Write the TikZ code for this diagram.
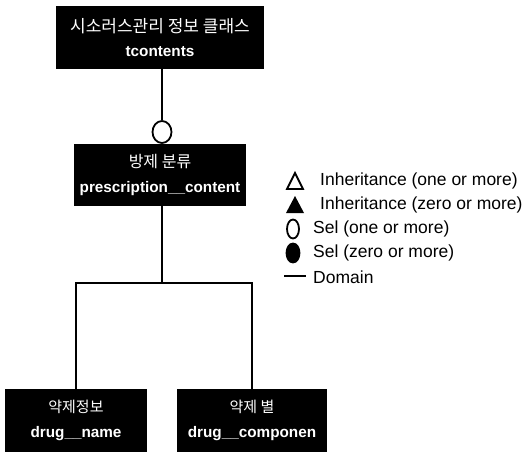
\documentclass[tikz,border=0pt]{standalone}
\usepackage{fontspec}
\setmainfont{Liberation Sans}
\newfontfamily\kr{Noto Sans CJK KR}
\usetikzlibrary{shapes.geometric}
\begin{document}
\begin{tikzpicture}[x=1pt,y=-1pt,
  classbox/.style={fill=black,text=white,inner sep=0pt,align=center,
    font=\fontsize{15.3}{24.5}\selectfont\bfseries},
  link/.style={line width=2pt},
  legendtext/.style={anchor=west,inner sep=0pt,font=\fontsize{17.5}{20}\selectfont},
  setmark/.style={ellipse,line width=1.8pt,minimum width=12pt,minimum height=19pt,inner sep=0pt}
]
\useasboundingbox (0,0) rectangle (525,452);

% classes
\node[classbox,minimum width=208pt,minimum height=63pt] (top) at (160,37.5)
  {{\kr\mdseries\fontsize{17}{24.5}\selectfont 시소러스관리 정보 클래스}\\tcontents};
\node[classbox,minimum width=172pt,minimum height=62pt] (mid) at (160,175)
  {{\kr\mdseries\fontsize{16}{24.5}\selectfont 방제 분류}\\prescription\_\_content};
\node[classbox,minimum width=142pt,minimum height=63pt] (left) at (76,420.5)
  {{\kr\mdseries\fontsize{15}{24.5}\selectfont 약제정보}\\drug\_\_name};
\node[classbox,minimum width=150pt,minimum height=63pt] (right) at (252,420.5)
  {{\kr\mdseries\fontsize{15}{24.5}\selectfont 약제 별}\\drug\_\_componen};

% set link between tcontents and prescription_content
\node[setmark,draw,fill=white,minimum width=19pt,minimum height=22pt] (ring) at (162,132) {};
\draw[link] (ring.north |- top.south) -- (ring.north);

% domain tree below prescription_content
\coordinate (fork) at (162,283);
\draw[link] (fork |- mid.south) -- (fork);
\draw[link,line cap=rect] (left.north |- fork) -- (right.north |- fork);
\draw[link] (left.north |- fork) -- (left.north);
\draw[link] (right.north |- fork) -- (right.north);

% legend
\draw[line width=1.8pt,line join=miter] (287,189) -- (303,189) -- (295,173) -- cycle;
\node[legendtext] (l1) at (320,181) {Inheritance (one or more)};
\fill[line join=miter] (286,213) -- (304,213) -- (295,196) -- cycle;
\node[legendtext] (l2) at (320,205) {Inheritance (zero or more)};
\node[setmark,draw] (s1) at (293,229) {};
\node[legendtext] (l3) at (313,229) {Sel (one or more)};
\node[setmark,draw,fill=black,minimum width=13pt] (s2) at (293,253) {};
\node[legendtext] (l4) at (313,253) {Sel (zero or more)};
\coordinate (d1) at (284,276);
\coordinate (d2) at (306,276);
\draw[line width=1.6pt] (d1) -- (d2);
\node[legendtext] (l5) at (313,277) {Domain};
\end{tikzpicture}
\end{document}
